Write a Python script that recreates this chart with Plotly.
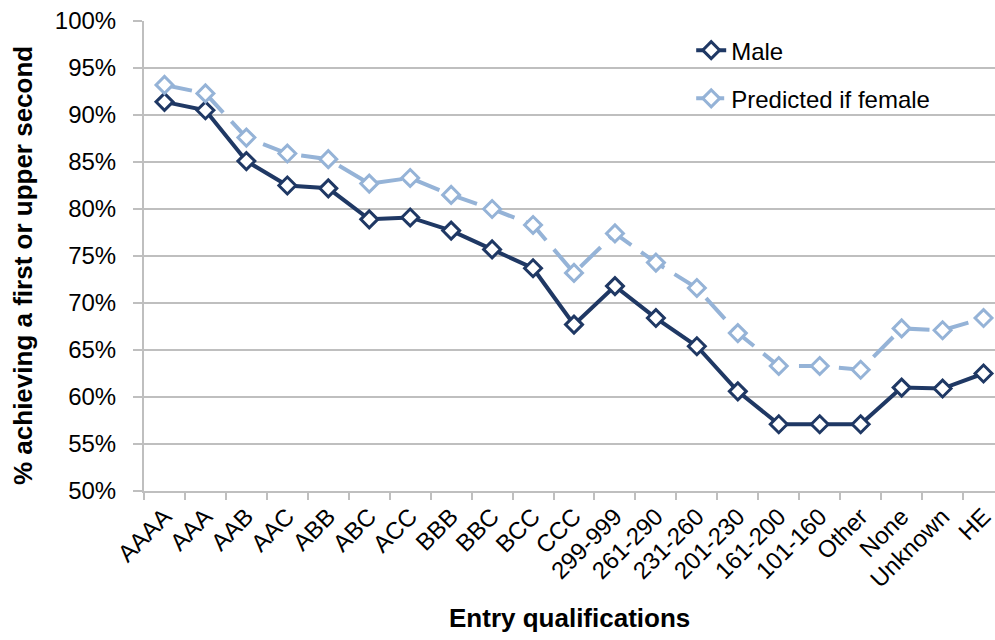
import plotly.graph_objects as go

categories = ["AAAA", "AAA", "AAB", "AAC", "ABB", "ABC", "ACC", "BBB", "BBC", "BCC", "CCC",
              "299-999", "261-290", "231-260", "201-230", "161-200", "101-160", "Other",
              "None", "Unknown", "HE"]
male = [91.4, 90.5, 85.1, 82.5, 82.2, 78.9, 79.1, 77.7, 75.7, 73.7, 67.7,
        71.8, 68.4, 65.4, 60.6, 57.1, 57.1, 57.1, 61.0, 60.9, 62.5]
female_pred = [93.2, 92.3, 87.6, 85.9, 85.3, 82.7, 83.3, 81.5, 80.0, 78.3, 73.2,
               77.4, 74.3, 71.6, 66.8, 63.3, 63.3, 62.9, 67.3, 67.1, 68.4]
y_ticks = [50, 55, 60, 65, 70, 75, 80, 85, 90, 95, 100]
y_ticktext = [f"{v}%" for v in y_ticks]

NAVY = "#1F3864"
LIGHT = "#95B3D7"
GRID = "#BFBFBF"
FONT = "Liberation Sans, Arial, sans-serif"

fig = go.Figure()
fig.add_trace(go.Scatter(
    x=categories, y=male, name="Male", mode="lines+markers",
    legendgroup="a",
    line=dict(color=NAVY, width=4),
    marker=dict(symbol="diamond", size=13, color="white", line=dict(color=NAVY, width=3)),
))
fig.add_trace(go.Scatter(
    x=categories, y=female_pred, name="Predicted if female", mode="lines+markers",
    legendgroup="b",
    line=dict(color=LIGHT, width=4, dash="28px,12px"),
    marker=dict(symbol="diamond", size=13, color="white", line=dict(color=LIGHT, width=3)),
))

fig.update_layout(
    width=995, height=640,
    margin=dict(l=144, r=0, t=21, b=149, pad=0),
    paper_bgcolor="white", plot_bgcolor="white",
    font=dict(family=FONT, size=24, color="black"),
    showlegend=True,
    legend=dict(x=0.643, y=0.985, xanchor="left", yanchor="top",
                bgcolor="rgba(0,0,0,0)", font=dict(size=24, family=FONT),
                traceorder="grouped", tracegroupgap=14),
    xaxis=dict(
        type="category", tickson="boundaries", ticks="outside", ticklen=7,
        tickwidth=2, tickcolor=GRID, showline=True, linecolor=GRID, linewidth=2,
        showgrid=False, tickangle=-45, tickfont=dict(size=24, family=FONT),
        range=[-0.5, len(categories) - 0.72], automargin=False,
    ),
    yaxis=dict(
        range=[50, 100], tickvals=y_ticks, ticktext=y_ticktext,
        ticks="outside", ticklen=9, tickwidth=2, tickcolor=GRID,
        ticklabelstandoff=12,
        showline=True, linecolor=GRID, linewidth=2,
        showgrid=True, gridcolor=GRID, gridwidth=2, zeroline=False,
        tickfont=dict(size=24, family=FONT), automargin=False,
    ),
    annotations=[
        dict(text="<b>Entry qualifications</b>", xref="paper", yref="paper",
             x=0.5, y=0, yshift=-127, xanchor="center", yanchor="middle",
             showarrow=False, font=dict(size=26, family=FONT)),
        dict(text="<b>% achieving a first or upper second</b>", xref="paper", yref="paper",
             x=0, xshift=-121, y=0.5, yshift=-10, xanchor="center", yanchor="middle",
             textangle=-90, showarrow=False, font=dict(size=26, family=FONT)),
    ],
)

fig.write_html("out.html", config={"displayModeBar": False},
               post_script="document.body.style.margin='0';")
